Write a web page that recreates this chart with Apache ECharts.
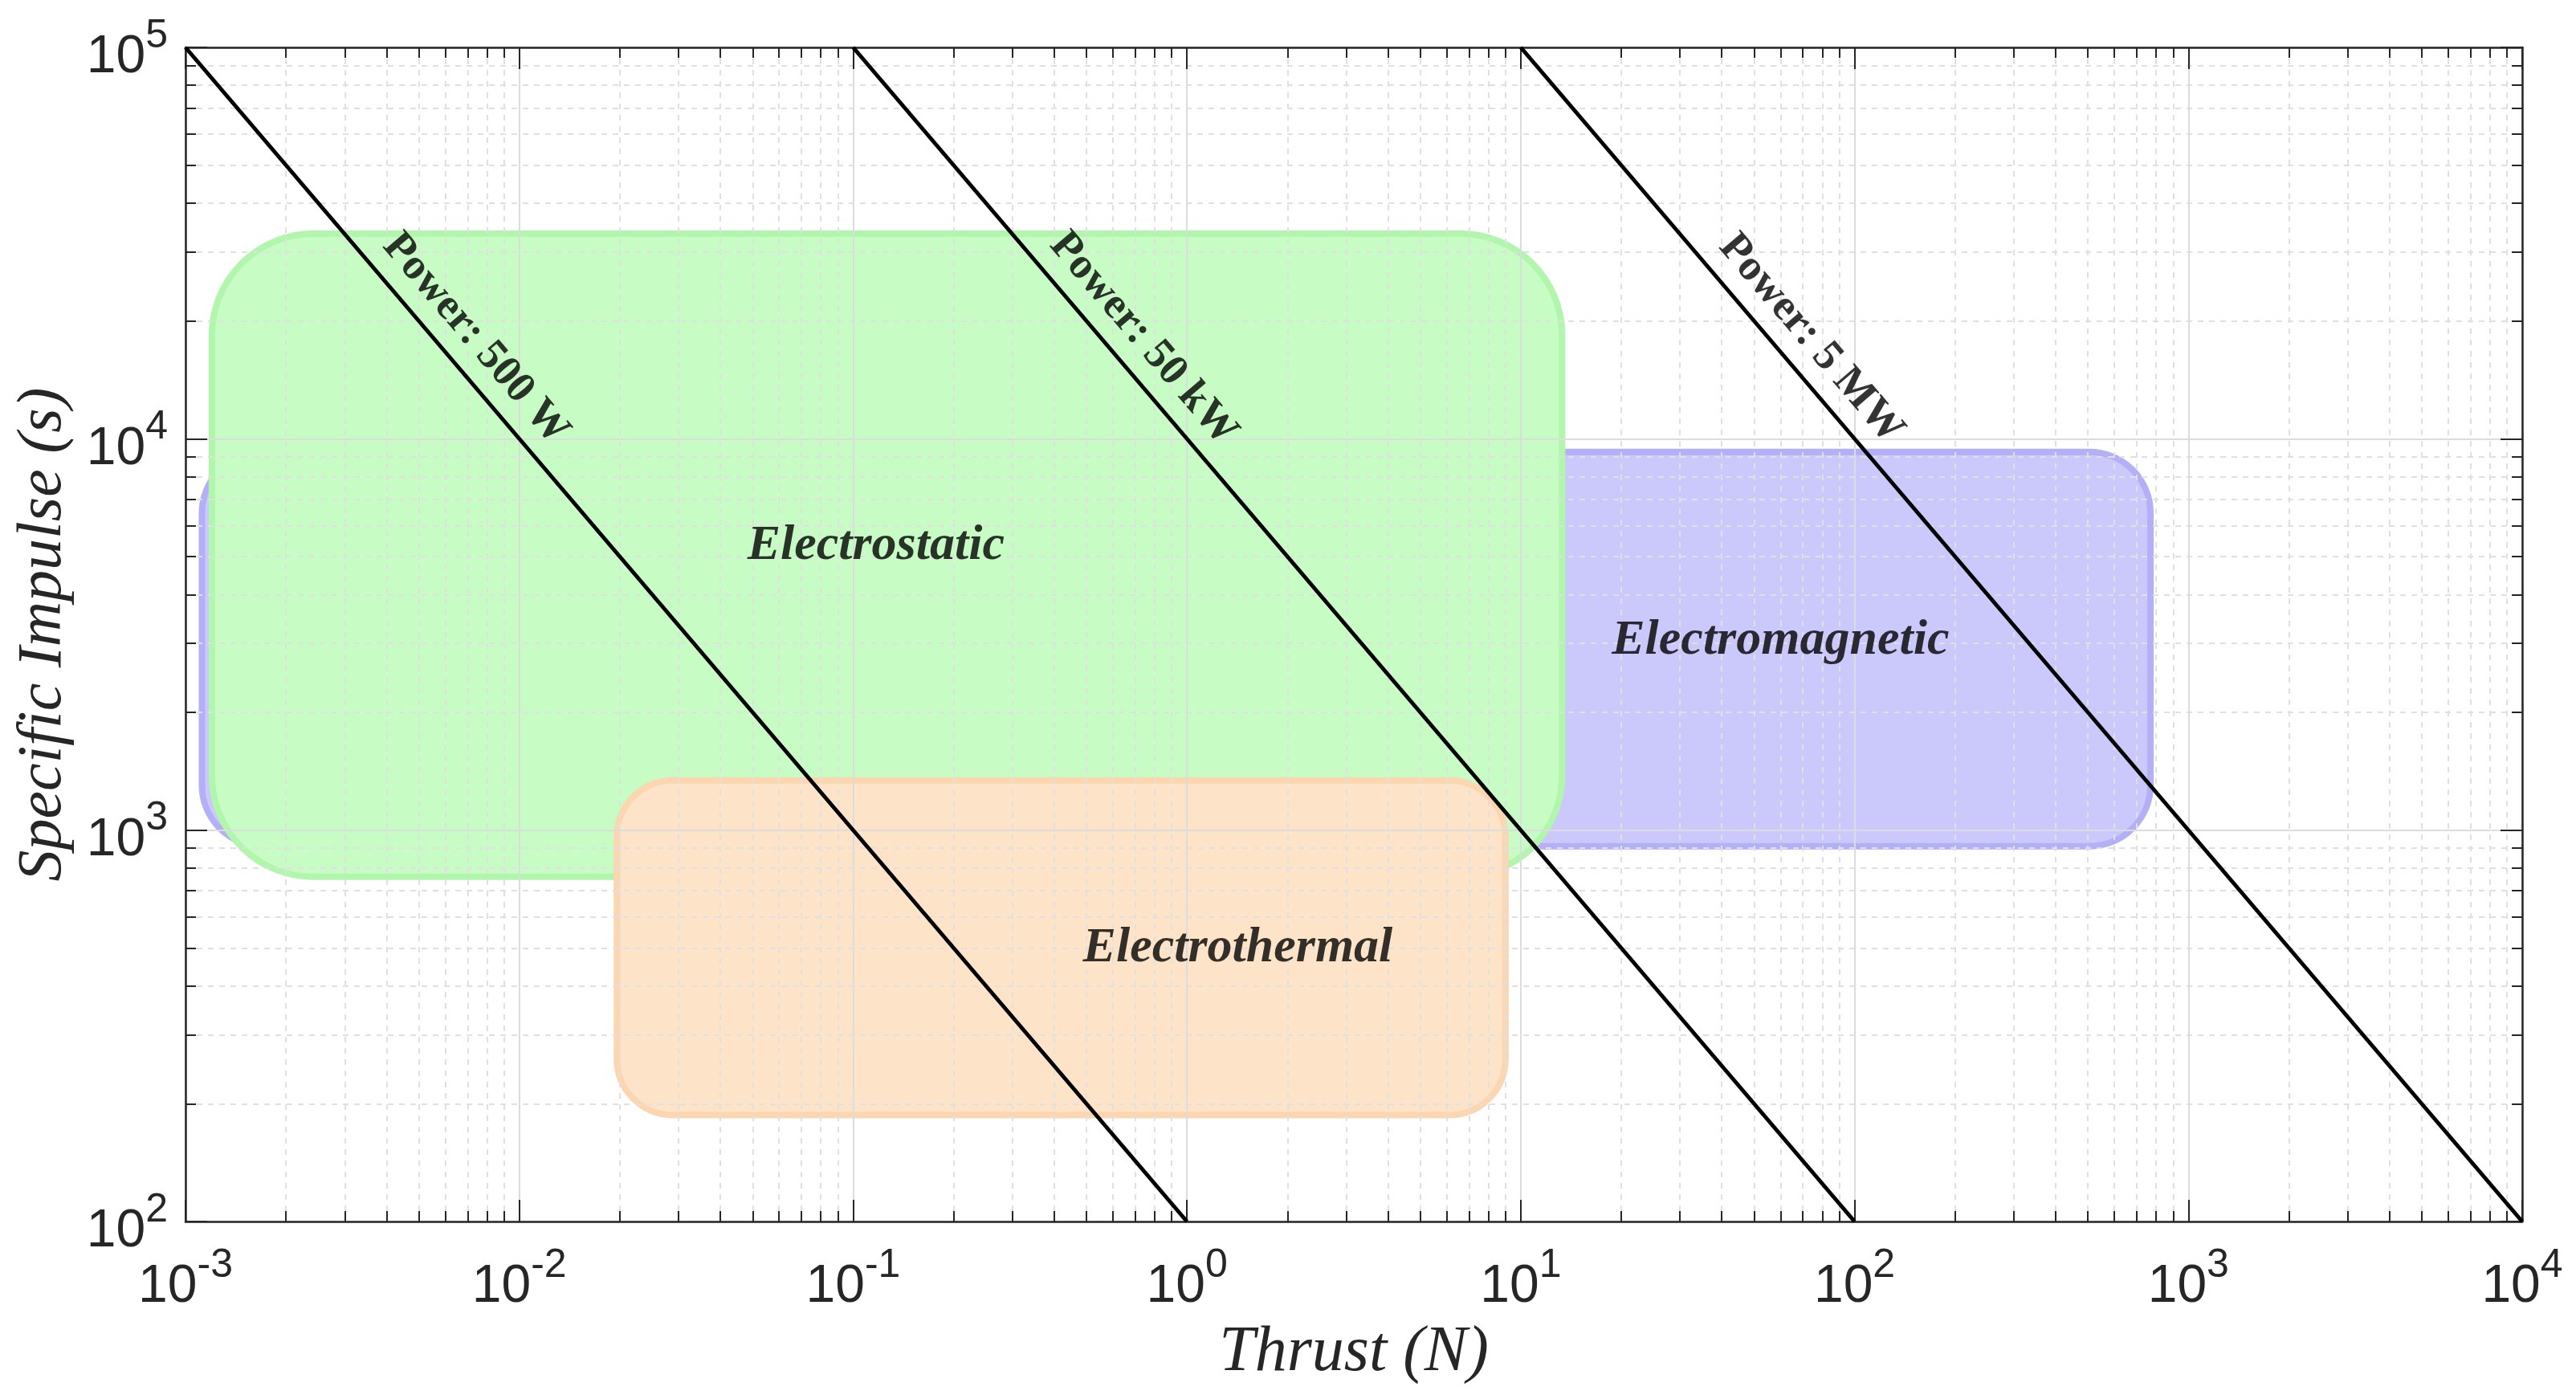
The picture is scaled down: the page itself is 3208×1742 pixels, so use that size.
<!DOCTYPE html>
<html><head><meta charset="utf-8">
<script src="https://cdn.jsdelivr.net/npm/echarts@6/dist/echarts.min.js"></script>
<style>html,body{margin:0;padding:0;background:#fff}#c{width:3208px;height:1742px}</style>
</head><body><div id="c"></div>
<script>
// ---- Data: thruster regions (Thrust in N, Isp in s) ----
const regionNames = ['Electromagnetic', 'Electrostatic', 'Electrothermal'];
const regionThrustMin = [0.00112, 0.0012, 0.0196];
const regionThrustMax = [770, 13.3, 9.0];
const regionIspMin = [910, 760, 187];
const regionIspMax = [9250, 33400, 1340];
const regionLabelThrust = [60, 0.117, 1.42];
const regionLabelIsp = [3040, 5320, 498];

// ---- Data: constant power lines ----
const powerNames = ['Power: 500 W', 'Power: 50 kW', 'Power: 5 MW'];
const powerThrustStart = [1e-3, 1e-1, 1e1];
const powerThrustEnd = [1, 1e2, 1e4];
const powerIspStart = [1e5, 1e5, 1e5];
const powerIspEnd = [1e2, 1e2, 1e2];
const powerLabelThrust = [0.0074, 0.74, 74];
const powerLabelIsp = [18000, 18000, 18000];

// ---- Axes ----
const thrustRange = [1e-3, 1e4];
const ispRange = [1e2, 1e5];
const xTitle = 'Thrust (N)';
const yTitle = 'Specific Impulse (s)';

function majorValues(r) {
  const out = [];
  for (let e = Math.round(Math.log10(r[0])); e <= Math.round(Math.log10(r[1])); e++) out.push(Math.pow(10, e));
  return out;
}
function minorValues(r) {
  const out = [];
  for (let e = Math.round(Math.log10(r[0])); e < Math.round(Math.log10(r[1])); e++)
    for (let k = 2; k <= 9; k++) out.push(+(k * Math.pow(10, e)).toPrecision(6));
  return out;
}

// ---- Styles ----
const regionStyles = [
  { fill: '#cbc8fb', stroke: '#b3b0f8', r: 76 },
  { fill: '#c8fcc5', stroke: '#b2f6ae', r: 126 },
  { fill: '#fde3c8', stroke: '#fbd6b1', r: 70 }
];
const axisColor = '#262626';
const tickFont = 'Liberation Sans, Arial, sans-serif';
const serif = 'Liberation Serif, Times New Roman, serif';

const labelRich = {
  b: { fontFamily: tickFont, fontSize: 66, lineHeight: 66, color: axisColor },
  s: { fontFamily: tickFont, fontSize: 50, lineHeight: 104, padding: [0, 0, 54, 0], color: axisColor }
};
function expFmt(v) {
  const e = Math.round(Math.log10(v));
  return '{b|10}{s|' + e + '}';
}

function makeAxis(range, pos, kind, extra) {
  const isMajor = kind === 'major';
  const ax = {
    type: 'log', logBase: 10, min: range[0], max: range[1], position: pos, z: 3,
    axisLine: { show: isMajor, onZero: false, lineStyle: { color: axisColor, width: 2.5 } },
    axisTick: { show: true, inside: true, length: isMajor ? 27 : 13,
      customValues: isMajor ? majorValues(range) : minorValues(range),
      lineStyle: { color: axisColor, width: 2 } },
    axisLabel: { show: false },
    splitLine: { show: false },
    minorTick: { show: false }, minorSplitLine: { show: false }
  };
  return Object.assign(ax, extra || {});
}

const xAxes = [
  makeAxis(thrustRange, 'bottom', 'major', {
    axisLabel: { show: true, customValues: majorValues(thrustRange), formatter: expFmt, rich: labelRich, margin: 30 },
    splitLine: { show: true, lineStyle: { color: '#dcdcdc', width: 2 } },
    name: xTitle, nameLocation: 'middle', nameGap: 124, nameMoveOverlap: false,
    nameTextStyle: { fontFamily: serif, fontStyle: 'italic', fontSize: 80, color: axisColor }
  }),
  makeAxis(thrustRange, 'bottom', 'minor', {
    splitLine: { show: true, lineStyle: { color: '#e0e0e0', width: 2, type: [7, 7] } }
  }),
  makeAxis(thrustRange, 'top', 'major'),
  makeAxis(thrustRange, 'top', 'minor')
];
const yAxes = [
  makeAxis(ispRange, 'left', 'major', {
    axisLabel: { show: true, customValues: majorValues(ispRange), formatter: expFmt, rich: labelRich, margin: 22, padding: [26, 0, 0, 0] },
    splitLine: { show: true, lineStyle: { color: '#dcdcdc', width: 2 } },
    name: yTitle, nameLocation: 'middle', nameGap: 138, nameMoveOverlap: false,
    nameTextStyle: { fontFamily: serif, fontStyle: 'italic', fontSize: 78, color: axisColor }
  }),
  makeAxis(ispRange, 'left', 'minor', {
    splitLine: { show: true, lineStyle: { color: '#e0e0e0', width: 2, type: [7, 7] } }
  }),
  makeAxis(ispRange, 'right', 'major'),
  makeAxis(ispRange, 'right', 'minor')
];

const series = [];
series.push({
  type: 'custom', xAxisIndex: 0, yAxisIndex: 0, z: 1, clip: true, silent: true,
  encode: { x: [0, 1], y: [2, 3] },
  data: regionNames.map((n, i) => [regionThrustMin[i], regionThrustMax[i], regionIspMin[i], regionIspMax[i]]),
  renderItem: function (params, api) {
    const st = regionStyles[params.dataIndex];
    const p0 = api.coord([api.value(0), api.value(3)]);
    const p1 = api.coord([api.value(1), api.value(2)]);
    return {
      type: 'rect',
      shape: { x: p0[0], y: p0[1], width: p1[0] - p0[0], height: p1[1] - p0[1], r: st.r },
      style: { fill: st.fill, stroke: st.stroke, lineWidth: 8 }
    };
  }
});
powerNames.forEach((n, i) => {
  series.push({
    type: 'line', name: n, xAxisIndex: 0, yAxisIndex: 0, z: 5, symbol: 'none', silent: true,
    lineStyle: { color: '#000', width: 5 },
    data: [[powerThrustStart[i], powerIspStart[i]], [powerThrustEnd[i], powerIspEnd[i]]]
  });
});
series.push({
  type: 'scatter', xAxisIndex: 0, yAxisIndex: 0, z: 6, symbolSize: 0, silent: true,
  data: powerNames.map((n, i) => ({ name: n, value: [powerLabelThrust[i], powerLabelIsp[i]] })),
  label: { show: true, position: 'inside', formatter: '{b}', rotate: -49.5, align: 'center', verticalAlign: 'middle',
    fontFamily: serif, fontWeight: 'bold', fontSize: 54, color: '#000' }
});
series.push({
  type: 'scatter', xAxisIndex: 0, yAxisIndex: 0, z: 6, symbolSize: 0, silent: true,
  data: regionNames.map((n, i) => ({ name: n, value: [regionLabelThrust[i], regionLabelIsp[i]] })),
  label: { show: true, position: 'inside', formatter: '{b}', align: 'center', verticalAlign: 'middle',
    fontFamily: serif, fontWeight: 'bold', fontStyle: 'italic', fontSize: 62, color: '#000' }
});

const chart = echarts.init(document.getElementById('c'), null, { renderer: 'canvas' });
chart.setOption({
  animation: false,
  backgroundColor: '#ffffff',
  grid: { left: 231, right: 67, top: 59, bottom: 221, containLabel: false },
  xAxis: xAxes,
  yAxis: yAxes,
  series: series
});
</script></body></html>
